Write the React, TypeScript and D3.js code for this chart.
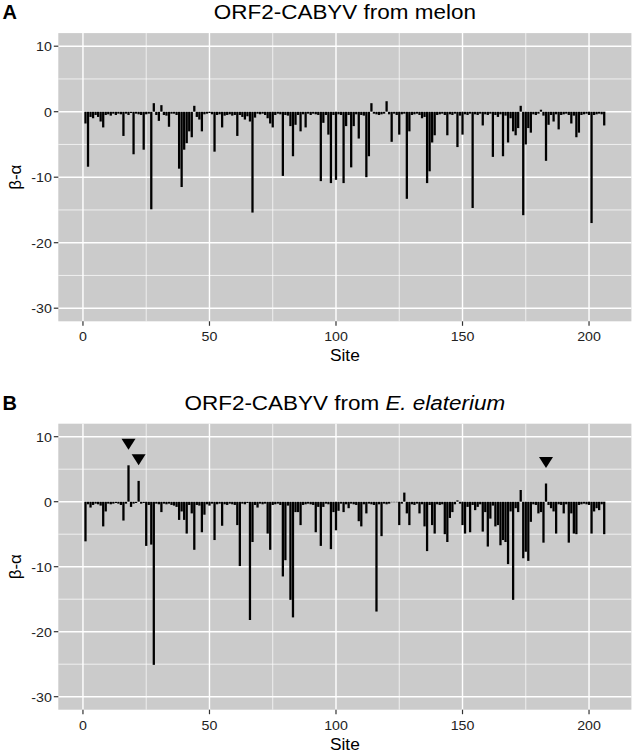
import React from "react";
import * as d3 from "d3";

// ---------- data ----------
const melonValues: number[] = [
  -1.8, -8.4, -0.8, -1.0, -0.5, -0.8, -1.5, -2.4, -0.5, -0.4,
  -0.6, -0.3, -0.5, -0.3, -0.4, -3.7, -0.3, -0.5, -0.2, -6.5,
  -0.3, -0.4, -0.5, -5.8, -0.4, -0.3, -14.9, 1.3, -0.5, -1.4,
  1.0, -0.5, -0.6, -2.3, -0.3, -0.3, -0.5, -8.7, -11.5, -5.8,
  -4.8, -3.0, -3.9, 0.9, -0.8, -1.2, -3.0, -0.4, -0.3, -0.2,
  -0.4, -6.1, -0.5, -0.4, -2.4, -0.6, -0.5, -0.4, -0.6, -0.5,
  -3.7, -0.5, -0.8, -1.2, -0.7, -1.5, -15.4, -0.9, -0.3, -0.4,
  -0.3, -0.5, -1.0, -1.8, -2.4, -0.5, -0.3, -0.4, -9.8, -0.5,
  -0.6, -2.2, -6.8, -2.0, -0.5, -3.0, -0.4, -2.4, -0.3, -0.5,
  -0.3, -0.4, -0.5, -10.6, -1.7, -0.5, -3.5, -10.9, -0.5, -10.4,
  -0.4, -0.5, -10.9, -2.2, -0.5, -8.5, -2.2, -0.4, -4.1, -0.5,
  -0.6, -10.0, -6.8, 1.3, -0.3, -0.4, -0.5, -0.4, -0.3, 1.6,
  -0.4, -4.6, -0.3, -0.5, -3.5, -0.4, -0.3, -13.3, -3.0, -0.5,
  -0.4, -0.3, -0.5, -1.0, -0.8, -10.9, -9.1, -4.7, -3.6, -0.5,
  -0.4, -0.3, -0.5, -3.6, -0.4, -0.5, -0.3, -5.4, -0.6, -3.5,
  -0.4, -0.5, -0.3, -14.7, -0.4, -0.5, -0.3, -2.1, -0.4, -0.5,
  -0.3, -6.9, -0.5, -0.8, -0.4, -6.8, -0.6, -4.7, -1.0, -3.0,
  -3.6, -2.5, 0.9, -15.8, -5.0, -2.5, -3.2, -0.4, -0.5, -0.3,
  0.3, -0.6, -7.5, -2.0, -0.5, -1.5, -0.4, -2.7, -0.5, -0.4,
  -0.3, -0.5, -1.8, -0.6, -3.9, -3.2, -0.5, -0.4, -0.3, -0.5,
  -17.0, -0.5, -0.4, -0.3, -0.4, -2.1,
];

const elateriumValues: number[] = [
  -6.1, -0.4, -0.9, -0.5, -0.3, -0.4, -0.6, -3.8, -1.5, -0.3,
  -0.4, -0.3, -0.2, -0.3, -0.5, -2.9, -0.3, 5.6, -0.8, -0.3,
  -0.2, 3.2, -0.3, -0.2, -6.8, -0.5, -6.6, -25.1, -0.3, -0.4,
  -1.6, -0.3, -0.4, -0.3, -0.5, -0.6, -0.8, -2.8, -1.5, -2.8,
  -4.9, -0.5, -1.8, -7.4, -0.5, -0.6, -4.7, -2.0, -0.4, -0.6,
  -0.3, -5.9, -0.4, -0.3, -3.7, -0.4, -0.5, -0.3, -0.4, -0.5,
  -3.6, -9.9, -0.3, -0.4, -0.2, -18.2, -6.2, -0.5, -0.9, -0.3,
  -0.4, -0.3, -4.9, -7.4, -0.5, -0.4, -0.3, -0.5, -11.5, -9.0,
  -0.6, -15.1, -17.8, -1.6, -1.6, -3.6, -0.5, -0.4, -0.3, -0.4,
  -0.5, -4.7, -0.8, -6.8, -0.8, -0.3, -0.4, -7.3, -1.6, -4.4,
  -1.4, -0.3, -1.6, -0.4, -1.0, -0.3, -0.4, -0.5, -3.0, -3.8,
  -0.4, -1.8, -0.3, -0.4, -0.5, -16.9, -0.4, -5.3, -0.3, -0.4,
  -0.3, 0, 0, 0, -3.6, -0.3, 1.4, -1.8, -3.6, -0.4,
  -0.5, -0.3, -1.8, -0.4, -3.8, -7.6, -0.5, -3.6, -4.9, -0.4,
  -0.5, -0.4, -5.0, -6.2, -2.5, -1.6, -0.4, 0.2, -0.3, -3.6,
  -4.9, -0.8, -4.7, -0.5, -1.3, -0.8, -0.4, -4.6, -1.6, -6.9,
  -2.6, -0.6, -3.8, -3.6, -6.7, -5.9, -6.2, -9.6, -1.5, -15.1,
  -1.0, -1.6, 1.8, -8.7, -7.7, -9.1, -3.1, -0.4, -0.5, -1.8,
  -1.6, -6.3, 2.8, -0.5, -1.0, -1.5, -4.9, -0.4, -0.5, -1.8,
  -0.4, -6.3, -1.8, -4.9, -5.0, -0.5, -0.4, -0.3, -0.4, -0.5,
  -4.9, -1.5, -1.0, -1.3, -0.4, -5.0,
];

const markerSites: number[] = [18, 22, 183];
const xTicks: number[] = [0, 50, 100, 150, 200];
const xMinor: number[] = [25, 75, 125, 175];
const yTicks: number[] = [10, 0, -10, -20, -30];
const yMinor: number[] = [5, -5, -15, -25];

// ---------- layout ----------
const W = 633;
const H = 754;
const FONT = "'Liberation Sans', Arial, Helvetica, sans-serif";
const PLOT_LEFT = 58.3;
const PLOT_RIGHT = 631.4;

const xScale = d3
  .scaleLinear()
  .domain([-9.745, 216.745])
  .range([PLOT_LEFT, PLOT_RIGHT]);

type PanelProps = {
  values: number[];
  top: number;
  bottom: number;
  tag: string;
  title: React.ReactNode;
  markers?: number[];
};

function Panel({ values, top, bottom, tag, title, markers = [] }: PanelProps) {
  const y = d3.scaleLinear().domain([-32, 12]).range([bottom, top]);
  const cx = (PLOT_LEFT + PLOT_RIGHT) / 2;
  const cy = (top + bottom) / 2;
  const titleBase = top - 14.2;
  const half = 0.45;
  return (
    <g>
      <text x={2.5} y={titleBase + 0.5} fontFamily={FONT} fontWeight="bold" fontSize={20} fill="#000">
        {tag}
      </text>
      <text
        transform={`translate(${cx},${titleBase}) scale(1.07,1)`}
        textAnchor="middle"
        fontFamily={FONT}
        fontSize={21}
        fill="#000"
      >
        {title}
      </text>
      <rect x={PLOT_LEFT} y={top} width={PLOT_RIGHT - PLOT_LEFT} height={bottom - top} fill="#CBCBCB" />
      {yMinor.map((t) => (
        <line key={"ym" + t} x1={PLOT_LEFT} x2={PLOT_RIGHT} y1={y(t)} y2={y(t)} stroke="#fff" strokeWidth={0.7} />
      ))}
      {xMinor.map((t) => (
        <line key={"xm" + t} x1={xScale(t)} x2={xScale(t)} y1={top} y2={bottom} stroke="#fff" strokeWidth={0.7} />
      ))}
      {yTicks.map((t) => (
        <line key={"yM" + t} x1={PLOT_LEFT} x2={PLOT_RIGHT} y1={y(t)} y2={y(t)} stroke="#fff" strokeWidth={1.4} />
      ))}
      {xTicks.map((t) => (
        <line key={"xM" + t} x1={xScale(t)} x2={xScale(t)} y1={top} y2={bottom} stroke="#fff" strokeWidth={1.4} />
      ))}
      {values.map((v, i) => {
        const site = i + 1;
        const x0 = xScale(site - half);
        const x1 = xScale(site + half);
        const ya = y(Math.max(v, 0));
        const yb = y(Math.min(v, 0));
        return <rect key={i} x={x0} y={ya} width={x1 - x0} height={Math.max(yb - ya, 0.6)} fill="#000" />;
      })}
      {markers.map((s) => {
        const v = values[s - 1];
        const tipY = y(v + 2.4);
        const xc = xScale(s);
        return (
          <path
            key={"mk" + s}
            d={`M${xc - 7},${tipY - 11} L${xc + 7},${tipY - 11} L${xc},${tipY} Z`}
            fill="#000"
          />
        );
      })}
      {yTicks.map((t) => (
        <g key={"yt" + t}>
          <line x1={PLOT_LEFT - 4.5} x2={PLOT_LEFT} y1={y(t)} y2={y(t)} stroke="#333" strokeWidth={1.2} />
          <text
            transform={`translate(${PLOT_LEFT - 6.5},${y(t) + 4.9}) scale(1.05,1)`}
            textAnchor="end"
            fontFamily={FONT}
            fontSize={13.5}
            fill="#222"
          >
            {t}
          </text>
        </g>
      ))}
      {xTicks.map((t) => (
        <g key={"xt" + t}>
          <line x1={xScale(t)} x2={xScale(t)} y1={bottom} y2={bottom + 4.5} stroke="#333" strokeWidth={1.2} />
          <text
            transform={`translate(${xScale(t)},${bottom + 19.8}) scale(1.05,1)`}
            textAnchor="middle"
            fontFamily={FONT}
            fontSize={13.5}
            fill="#222"
          >
            {t}
          </text>
        </g>
      ))}
      <text
        transform={`translate(${cx},${bottom + 40}) scale(1.05,1)`}
        textAnchor="middle"
        fontFamily={FONT}
        fontSize={16.5}
        fill="#000"
      >
        Site
      </text>
      <text
        transform={`translate(20.5,${cy}) rotate(-90)`}
        textAnchor="middle"
        fontFamily={FONT}
        fontSize={17}
        fill="#000"
      >
        β-α
      </text>
    </g>
  );
}

export default function App() {
  return (
    <svg
      width={W}
      height={H}
      viewBox={`0 0 ${W} ${H}`}
      style={{ position: "absolute", left: 0, top: 0, background: "#fff" }}
    >
      <rect width={W} height={H} fill="#fff" />
      <Panel values={melonValues} top={33.1} bottom={321.3} tag="A" title="ORF2-CABYV from melon" />
      <Panel
        values={elateriumValues}
        top={423.7}
        bottom={709.7}
        tag="B"
        markers={markerSites}
        title={
          <>
            ORF2-CABYV from <tspan fontStyle="italic">E. elaterium</tspan>
          </>
        }
      />
    </svg>
  );
}
